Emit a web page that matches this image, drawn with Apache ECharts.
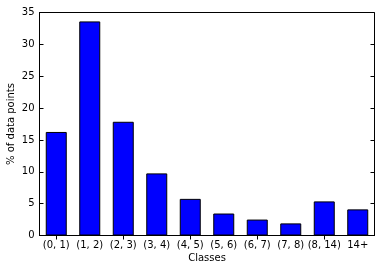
<!DOCTYPE html>
<html>
<head>
<meta charset="utf-8">
<script src="https://cdn.jsdelivr.net/npm/echarts@6/dist/echarts.min.js"></script>
<style>html,body{margin:0;padding:0;background:#fff}#c{width:380px;height:271px}</style>
</head>
<body>
<div id="c"></div>
<script>
const categories = ['(0, 1)', '(1, 2)', '(2, 3)', '(3, 4)', '(4, 5)', '(5, 6)', '(6, 7)', '(7, 8)', '(8, 14)', '14+'];
const values = [16.25, 33.6, 17.85, 9.75, 5.75, 3.45, 2.5, 1.9, 5.35, 4.1];
const yTicks = [0, 5, 10, 15, 20, 25, 30, 35];

const font = 'DejaVu Sans';
const chart = echarts.init(document.getElementById('c'), null, {renderer: 'canvas'});
const tickStyle = {show: true, inside: true, length: 4, lineStyle: {color: '#000', width: 1}};
chart.setOption({
  backgroundColor: '#fff',
  animation: false,
  grid: {left: 39.5, top: 12.5, right: 5.5, bottom: 35.5, containLabel: false, outerBoundsMode: 'none',
         show: true, borderColor: '#000', borderWidth: 1, backgroundColor: 'transparent'},
  xAxis: [{
    type: 'category', data: categories, position: 'bottom',
    name: 'Classes', nameLocation: 'middle', nameGap: 18, nameMoveOverlap: false,
    nameTextStyle: {fontFamily: font, fontSize: 10, color: '#000'},
    axisLine: {show: true, lineStyle: {color: '#000'}},
    axisTick: Object.assign({alignWithLabel: true}, tickStyle),
    axisLabel: {fontFamily: font, fontSize: 10, color: '#000', margin: 5, interval: 0},
    splitLine: {show: false}
  }, {
    type: 'category', data: categories, position: 'top',
    axisLine: {show: false},
    axisTick: Object.assign({alignWithLabel: true}, tickStyle),
    axisLabel: {show: false},
    splitLine: {show: false}
  }],
  yAxis: [{
    type: 'value', min: yTicks[0], max: yTicks[yTicks.length - 1], interval: 5,
    name: '% of data points', nameLocation: 'middle', nameGap: 23, nameRotate: 90, nameMoveOverlap: false,
    nameTextStyle: {fontFamily: font, fontSize: 10, color: '#000'},
    axisLine: {show: true, lineStyle: {color: '#000'}},
    axisTick: tickStyle,
    axisLabel: {fontFamily: font, fontSize: 10, color: '#000', margin: 5},
    splitLine: {show: false}
  }, {
    type: 'value', min: yTicks[0], max: yTicks[yTicks.length - 1], interval: 5, position: 'right',
    axisLine: {show: false},
    axisTick: tickStyle,
    axisLabel: {show: false},
    splitLine: {show: false}
  }],
  series: [{
    type: 'bar', data: values, barWidth: 21,
    itemStyle: {color: '#0000ff', borderColor: '#000', borderWidth: 1},
    silent: true
  }]
});
</script>
</body>
</html>
